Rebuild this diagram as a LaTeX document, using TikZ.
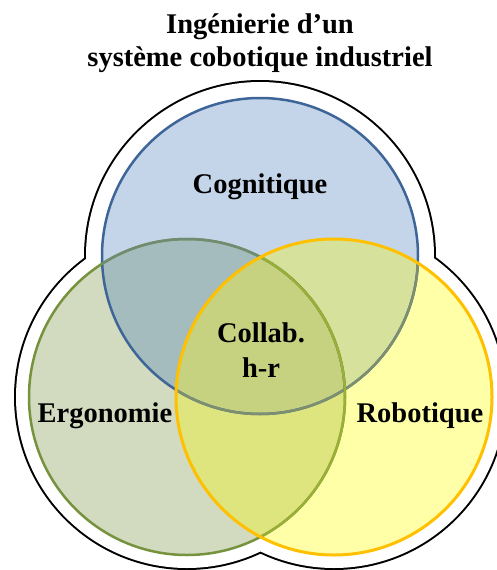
\documentclass[tikz,border=0pt]{standalone}
\usepackage{fontspec}
\setmainfont{Liberation Serif}
\definecolor{bfill}{HTML}{C5D5E9}
\definecolor{gfill}{HTML}{D2DABF}
\definecolor{yfill}{HTML}{FFFFA8}
\definecolor{bgfill}{HTML}{A4BCBE}
\definecolor{byfill}{HTML}{D6E29C}
\definecolor{gyfill}{HTML}{DEE47E}
\definecolor{cfill}{HTML}{C6D27F}
\definecolor{bline}{HTML}{3D6597}
\definecolor{bylinec}{HTML}{7D8F6E}
\definecolor{gline}{HTML}{76923C}
\definecolor{gbline}{HTML}{6F8C72}
\definecolor{gyline}{HTML}{9AAF35}
\definecolor{yline}{HTML}{FFC000}
\tikzset{
  lbl/.style={font=\fontsize{28.5}{33}\selectfont\bfseries, inner sep=0pt, align=center},
  ring/.style={line width=2.5pt},
}
\begin{document}
\begin{tikzpicture}[x=1pt,y=1pt]
\path[use as bounding box, clip] (0,0) rectangle (497,-570);
\fill[white] (0,0) rectangle (497,-570);
\coordinate (B) at (260,-256);
\coordinate (G) at (187,-397);
\coordinate (Y) at (334,-397);
\def\rr{158}
% outer outline
\draw[black, line width=4pt] (B) circle (174) (G) circle (171) (Y) circle (171);
\fill[white] (B) circle (174) (G) circle (171) (Y) circle (171);
% fills
\fill[bfill] (B) circle (\rr);
\fill[gfill] (G) circle (\rr);
\fill[yfill] (Y) circle (\rr);
\begin{scope}
  \clip (B) circle (\rr);
  \fill[bgfill] (G) circle (\rr);
  \fill[byfill] (Y) circle (\rr);
\end{scope}
\begin{scope}
  \clip (G) circle (\rr);
  \fill[gyfill] (Y) circle (\rr);
  \clip (B) circle (\rr);
  \fill[cfill] (Y) circle (\rr);
\end{scope}
% outlines
\draw[ring, bline] (B) circle (\rr);
\begin{scope}
  \clip (Y) circle (\rr);
  \draw[ring, bylinec] (B) circle (\rr);
\end{scope}
\draw[ring, gline] (G) circle (\rr);
\begin{scope}
  \clip (B) circle (\rr);
  \draw[ring, gbline] (G) circle (\rr);
\end{scope}
\begin{scope}
  \clip (Y) circle (\rr);
  \draw[ring, gyline] (G) circle (\rr);
\end{scope}
\draw[line width=3pt, yline] (Y) circle (\rr);
% texts
\node[lbl, anchor=base] (t1) at (260,-33) {Ingénierie d’un};
\node[lbl, anchor=base] (t2) at (260,-66) {système cobotique industriel};
\node[lbl, anchor=base] (cog) at (260,-193) {Cognitique};
\node[lbl, anchor=base] (erg) at (105,-422) {Ergonomie};
\node[lbl, anchor=base] (rob) at (420,-422) {Robotique};
\node[lbl, anchor=base] (col) at (261,-342) {Collab.};
\node[lbl, anchor=base] (hr) at (261,-377) {h-r};
\end{tikzpicture}
\end{document}
